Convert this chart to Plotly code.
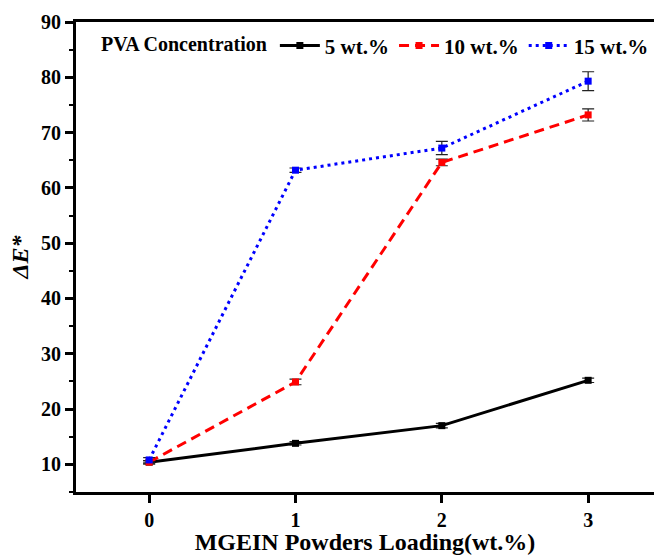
import plotly.graph_objects as go

loading = [0, 1, 2, 3]
series_names = ["5 wt.%", "10 wt.%", "15 wt.%"]
de_5 = [10.4, 13.8, 17.0, 25.2]
de_10 = [10.4, 24.9, 64.6, 73.2]
de_15 = [10.8, 63.2, 67.2, 79.3]
err_5 = [0.3, 0.3, 0.4, 0.4]
err_10 = [0.3, 0.5, 0.6, 1.1]
err_15 = [0.4, 0.4, 1.2, 1.7]

colors = ["black", "#ff0000", "#0000ff"]
dashes = ["solid", "10px,6px", "3px,4px"]
ys = [de_5, de_10, de_15]
errs = [err_5, err_10, err_15]

FONT = "Liberation Serif"

fig = go.Figure()
for name, y, e, c, d in zip(series_names, ys, errs, colors, dashes):
    fig.add_trace(go.Scatter(
        x=loading, y=y, name=name, mode="lines+markers",
        line=dict(color=c, width=3, dash=d),
        marker=dict(symbol="square", size=7, color=c),
        error_y=dict(type="data", array=e, visible=True, color="#222222", thickness=1.2, width=6),
    ))

fig.update_layout(
    width=654, height=555,
    margin=dict(l=76, r=0, t=22, b=63, autoexpand=False),
    paper_bgcolor="white", plot_bgcolor="white",
    font=dict(family=FONT, size=19, color="black", weight="bold"),
    showlegend=True,
    legend=dict(
        orientation="h", x=0.04, y=0.949, xanchor="left", yanchor="middle",
        bgcolor="rgba(0,0,0,0)",
        font=dict(family=FONT, size=21, color="black", weight="bold"),
        title=dict(text="PVA Concentration", side="left",
                   font=dict(family=FONT, size=20, color="black", weight="bold")),
        itemwidth=40, tracegroupgap=0,
    ),
)

fig.update_xaxes(
    range=[-0.5, 3.45], tickmode="array", tickvals=loading,
    ticktext=[str(v) for v in loading],
    showline=True, linecolor="black", linewidth=3, mirror=True,
    ticks="outside", ticklen=8, tickwidth=3, tickcolor="black",
    showgrid=False, zeroline=False,
    tickfont=dict(family=FONT, size=20, weight="bold"),
    title=dict(text="MGEIN Powders Loading(wt.%)", standoff=12,
               font=dict(family=FONT, size=24, weight="bold")),
)
fig.update_yaxes(
    range=[5, 90], tickmode="linear", tick0=10, dtick=10,
    showline=True, linecolor="black", linewidth=3, mirror=False,
    ticks="outside", ticklen=8, tickwidth=3, tickcolor="black",
    minor=dict(ticks="outside", ticklen=4, tickwidth=2, tickcolor="black", dtick=5, tick0=5, showgrid=False),
    showgrid=False, zeroline=False,
    tickfont=dict(family=FONT, size=20, weight="bold"),
    title=dict(text="<i>ΔE*</i>", standoff=6,
               font=dict(family=FONT, size=24, weight="bold")),
)

fig.write_html("out.html")
